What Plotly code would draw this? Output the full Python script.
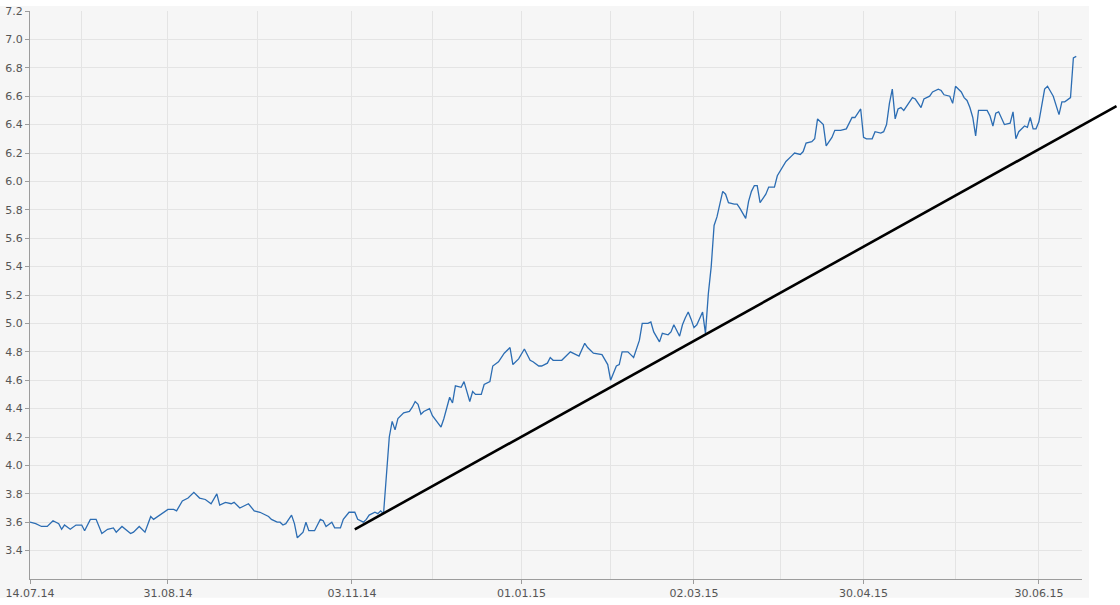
import pandas as pd
import plotly.graph_objects as go

DATES = [
    "2014-07-14", "2014-07-16", "2014-07-18", "2014-07-20", "2014-07-22", "2014-07-24",
    "2014-07-25", "2014-07-26", "2014-07-28", "2014-07-30", "2014-08-01", "2014-08-02",
    "2014-08-04", "2014-08-06", "2014-08-08", "2014-08-10", "2014-08-12", "2014-08-13",
    "2014-08-15", "2014-08-18", "2014-08-19", "2014-08-21", "2014-08-23", "2014-08-25",
    "2014-08-26", "2014-08-29", "2014-08-31", "2014-09-02", "2014-09-03", "2014-09-05",
    "2014-09-07", "2014-09-09", "2014-09-11", "2014-09-13", "2014-09-15", "2014-09-17",
    "2014-09-18", "2014-09-20", "2014-09-22", "2014-09-23", "2014-09-25", "2014-09-28",
    "2014-09-30", "2014-10-02", "2014-10-04", "2014-10-05", "2014-10-06", "2014-10-08",
    "2014-10-09", "2014-10-10", "2014-10-11", "2014-10-13", "2014-10-14", "2014-10-15",
    "2014-10-17", "2014-10-18", "2014-10-19", "2014-10-21", "2014-10-23", "2014-10-24",
    "2014-10-25", "2014-10-27", "2014-10-28", "2014-10-30", "2014-10-31", "2014-11-02",
    "2014-11-04", "2014-11-05", "2014-11-07", "2014-11-08", "2014-11-09", "2014-11-11",
    "2014-11-12", "2014-11-13", "2014-11-14", "2014-11-15", "2014-11-16", "2014-11-17",
    "2014-11-18", "2014-11-19", "2014-11-21", "2014-11-23", "2014-11-24", "2014-11-25",
    "2014-11-26", "2014-11-27", "2014-11-28", "2014-11-30", "2014-12-01", "2014-12-04",
    "2014-12-05", "2014-12-07", "2014-12-08", "2014-12-09", "2014-12-11", "2014-12-12",
    "2014-12-14", "2014-12-15", "2014-12-16", "2014-12-18", "2014-12-19", "2014-12-21",
    "2014-12-22", "2014-12-24", "2014-12-26", "2014-12-28", "2014-12-29", "2014-12-31",
    "2015-01-02", "2015-01-04", "2015-01-05", "2015-01-07", "2015-01-08", "2015-01-10",
    "2015-01-11", "2015-01-12", "2015-01-15", "2015-01-18", "2015-01-21", "2015-01-23",
    "2015-01-24", "2015-01-26", "2015-01-29", "2015-01-31", "2015-02-01", "2015-02-03",
    "2015-02-04", "2015-02-05", "2015-02-07", "2015-02-08", "2015-02-09", "2015-02-11",
    "2015-02-12", "2015-02-14", "2015-02-15", "2015-02-16", "2015-02-18", "2015-02-19",
    "2015-02-21", "2015-02-22", "2015-02-23", "2015-02-25", "2015-02-26", "2015-02-27",
    "2015-02-28", "2015-03-01", "2015-03-02", "2015-03-03", "2015-03-05", "2015-03-06",
    "2015-03-07", "2015-03-08", "2015-03-09", "2015-03-10", "2015-03-11", "2015-03-12",
    "2015-03-13", "2015-03-14", "2015-03-16", "2015-03-17", "2015-03-18", "2015-03-20",
    "2015-03-21", "2015-03-22", "2015-03-23", "2015-03-24", "2015-03-25", "2015-03-27",
    "2015-03-28", "2015-03-30", "2015-03-31", "2015-04-02", "2015-04-03", "2015-04-05",
    "2015-04-06", "2015-04-08", "2015-04-09", "2015-04-10", "2015-04-12", "2015-04-13",
    "2015-04-14", "2015-04-16", "2015-04-17", "2015-04-19", "2015-04-20", "2015-04-22",
    "2015-04-24", "2015-04-26", "2015-04-27", "2015-04-29", "2015-04-30", "2015-05-01",
    "2015-05-03", "2015-05-04", "2015-05-06", "2015-05-07", "2015-05-08", "2015-05-09",
    "2015-05-10", "2015-05-11", "2015-05-12", "2015-05-13", "2015-05-14", "2015-05-16",
    "2015-05-17", "2015-05-18", "2015-05-20", "2015-05-21", "2015-05-23", "2015-05-24",
    "2015-05-26", "2015-05-27", "2015-05-28", "2015-05-30", "2015-05-31", "2015-06-01",
    "2015-06-03", "2015-06-04", "2015-06-05", "2015-06-06", "2015-06-07", "2015-06-08",
    "2015-06-09", "2015-06-12", "2015-06-13", "2015-06-14", "2015-06-15", "2015-06-16",
    "2015-06-18", "2015-06-20", "2015-06-21", "2015-06-22", "2015-06-23", "2015-06-25",
    "2015-06-26", "2015-06-27", "2015-06-28", "2015-06-29", "2015-06-30", "2015-07-02",
    "2015-07-03", "2015-07-05", "2015-07-07", "2015-07-08", "2015-07-09", "2015-07-11",
    "2015-07-12", "2015-07-13",
]

PRICES = [
    3.60, 3.59, 3.57, 3.57, 3.61, 3.59,
    3.55, 3.58, 3.55, 3.58, 3.58, 3.54,
    3.62, 3.62, 3.52, 3.55, 3.56, 3.53,
    3.57, 3.52, 3.53, 3.57, 3.53, 3.64,
    3.62, 3.66, 3.69, 3.69, 3.68, 3.75,
    3.77, 3.81, 3.77, 3.76, 3.73, 3.80,
    3.72, 3.74, 3.73, 3.74, 3.70, 3.73,
    3.68, 3.67, 3.65, 3.64, 3.62, 3.60,
    3.60, 3.58, 3.59, 3.65, 3.59, 3.49,
    3.53, 3.60, 3.54, 3.54, 3.62, 3.61,
    3.57, 3.60, 3.56, 3.56, 3.62, 3.67,
    3.67, 3.62, 3.60, 3.62, 3.65, 3.67,
    3.66, 3.68, 3.66, 3.95, 4.20, 4.31,
    4.25, 4.33, 4.37, 4.38, 4.41, 4.45,
    4.43, 4.36, 4.38, 4.40, 4.35, 4.27,
    4.33, 4.48, 4.44, 4.56, 4.55, 4.59,
    4.45, 4.52, 4.50, 4.50, 4.57, 4.59,
    4.70, 4.73, 4.79, 4.83, 4.71, 4.75,
    4.82, 4.74, 4.73, 4.70, 4.70, 4.72,
    4.76, 4.74, 4.74, 4.80, 4.77, 4.86,
    4.83, 4.79, 4.78, 4.71, 4.60, 4.70,
    4.71, 4.80, 4.80, 4.78, 4.76, 4.88,
    5.00, 5.00, 5.01, 4.94, 4.87, 4.93,
    4.92, 4.94, 4.99, 4.91, 4.99, 5.04,
    5.08, 5.03, 4.97, 4.99, 5.08, 4.93,
    5.21, 5.40, 5.69, 5.75, 5.84, 5.93,
    5.91, 5.85, 5.84, 5.84, 5.81, 5.74,
    5.86, 5.93, 5.97, 5.97, 5.85, 5.91,
    5.96, 5.96, 6.04, 6.11, 6.14, 6.18,
    6.20, 6.19, 6.21, 6.27, 6.28, 6.30,
    6.44, 6.40, 6.25, 6.31, 6.36, 6.36,
    6.37, 6.45, 6.45, 6.51, 6.31, 6.30,
    6.30, 6.35, 6.34, 6.35, 6.40, 6.55,
    6.65, 6.44, 6.51, 6.52, 6.50, 6.56,
    6.59, 6.58, 6.52, 6.58, 6.60, 6.63,
    6.65, 6.64, 6.61, 6.60, 6.55, 6.67,
    6.63, 6.59, 6.57, 6.52, 6.45, 6.32,
    6.50, 6.50, 6.46, 6.39, 6.48, 6.49,
    6.40, 6.41, 6.49, 6.30, 6.35, 6.39,
    6.38, 6.45, 6.37, 6.37, 6.42, 6.65,
    6.67, 6.60, 6.47, 6.56, 6.56, 6.59,
    6.87, 6.88,
]

# labelled ticks every two months, plain gridlines on the months between
LABEL_DATES = ["2014-07-14", "2014-08-31", "2014-11-03", "2015-01-01",
               "2015-03-02", "2015-04-30", "2015-06-30"]
LABELS = ["14.07.14", "31.08.14", "03.11.14", "01.01.15",
          "02.03.15", "30.04.15", "30.06.15"]
GRID_DATES = ["2014-08-01", "2014-10-01", "2014-12-01", "2015-02-01",
              "2015-04-01", "2015-06-01"]

Y_TICKS = [3.4, 3.6, 3.8, 4.0, 4.2, 4.4, 4.6, 4.8, 5.0, 5.2,
           5.4, 5.6, 5.8, 6.0, 6.2, 6.4, 6.6, 6.8, 7.0, 7.2]

# hand drawn support line: start point and where it leaves the picture
TREND_DATES = ["2014-11-04", "2015-07-27"]
TREND_VALUES = [3.55, 6.53]

X_RANGE = ["2014-07-14", "2015-07-15"]
Y_RANGE = [3.2, 7.2]

WIDTH = 1120
HEIGHT = 605
MARGIN = dict(l=30, r=38, t=5, b=25)

BG = '#f6f6f6'
GRID = '#e4e4e4'
AXIS = '#9c9c9c'
LINE_BLUE = '#2c6db3'
FONT = dict(family='DejaVu Sans', size=11, color='#555555')


def _trend_shape():
    # the drawn line runs past the plot edge, so place it in domain units
    x0, x1 = pd.Timestamp(X_RANGE[0]), pd.Timestamp(X_RANGE[1])
    span = x1 - x0
    fx = [(pd.Timestamp(d) - x0) / span for d in TREND_DATES]
    fy = [(v - Y_RANGE[0]) / (Y_RANGE[1] - Y_RANGE[0]) for v in TREND_VALUES]
    return dict(type='line', xref='x domain', yref='y domain',
                x0=fx[0], y0=fy[0], x1=fx[1], y1=fy[1],
                line=dict(color='black', width=2.6), layer='above')


def _background_shape():
    # grey panel of the original image, stops a few px right of / below the axes
    pw = WIDTH - MARGIN['l'] - MARGIN['r']
    ph = HEIGHT - MARGIN['t'] - MARGIN['b']
    return dict(type='rect', xref='paper', yref='paper',
                x0=-MARGIN['l'] / pw, x1=(1089 - MARGIN['l']) / pw,
                y0=-(599 - (HEIGHT - MARGIN['b'])) / ph, y1=1 + MARGIN['t'] / ph,
                fillcolor=BG, line_width=0, layer='below')


def draw_chart():
    fig = go.Figure()
    fig.add_trace(go.Scatter(
        x=DATES, y=PRICES,
        mode='lines',
        line=dict(color=LINE_BLUE, width=1.3),
        hoverinfo='x+y'))

    fig.update_layout(
        width=WIDTH, height=HEIGHT,
        margin=MARGIN,
        paper_bgcolor='white',
        plot_bgcolor=BG,
        showlegend=False,
        font=FONT,
        shapes=[_background_shape(), _trend_shape()],
    )
    fig.update_xaxes(
        type='date', range=X_RANGE,
        tickmode='array', tickvals=LABEL_DATES, ticktext=LABELS,
        showgrid=True, gridcolor=GRID, gridwidth=1,
        minor=dict(tickmode='array', tickvals=GRID_DATES, showgrid=True,
                   gridcolor=GRID, gridwidth=1, ticks=''),
        showline=True, linecolor=AXIS, linewidth=1,
        ticks='outside', ticklen=4, tickcolor=AXIS,
        ticklabeloverflow='allow',
        zeroline=False, fixedrange=True)
    fig.update_yaxes(
        range=Y_RANGE,
        tickmode='array', tickvals=Y_TICKS, tickformat='.1f',
        showgrid=True, gridcolor=GRID, gridwidth=1,
        showline=True, linecolor=AXIS, linewidth=1,
        ticks='outside', ticklen=4, tickcolor=AXIS,
        ticklabeloverflow='allow',
        zeroline=False, fixedrange=True)

    # page body margin would shift the 1120x605 figure, so drop it
    fig.write_html("out.html", config=dict(displayModeBar=False),
                   post_script="document.body.style.margin = '0';")


draw_chart()
